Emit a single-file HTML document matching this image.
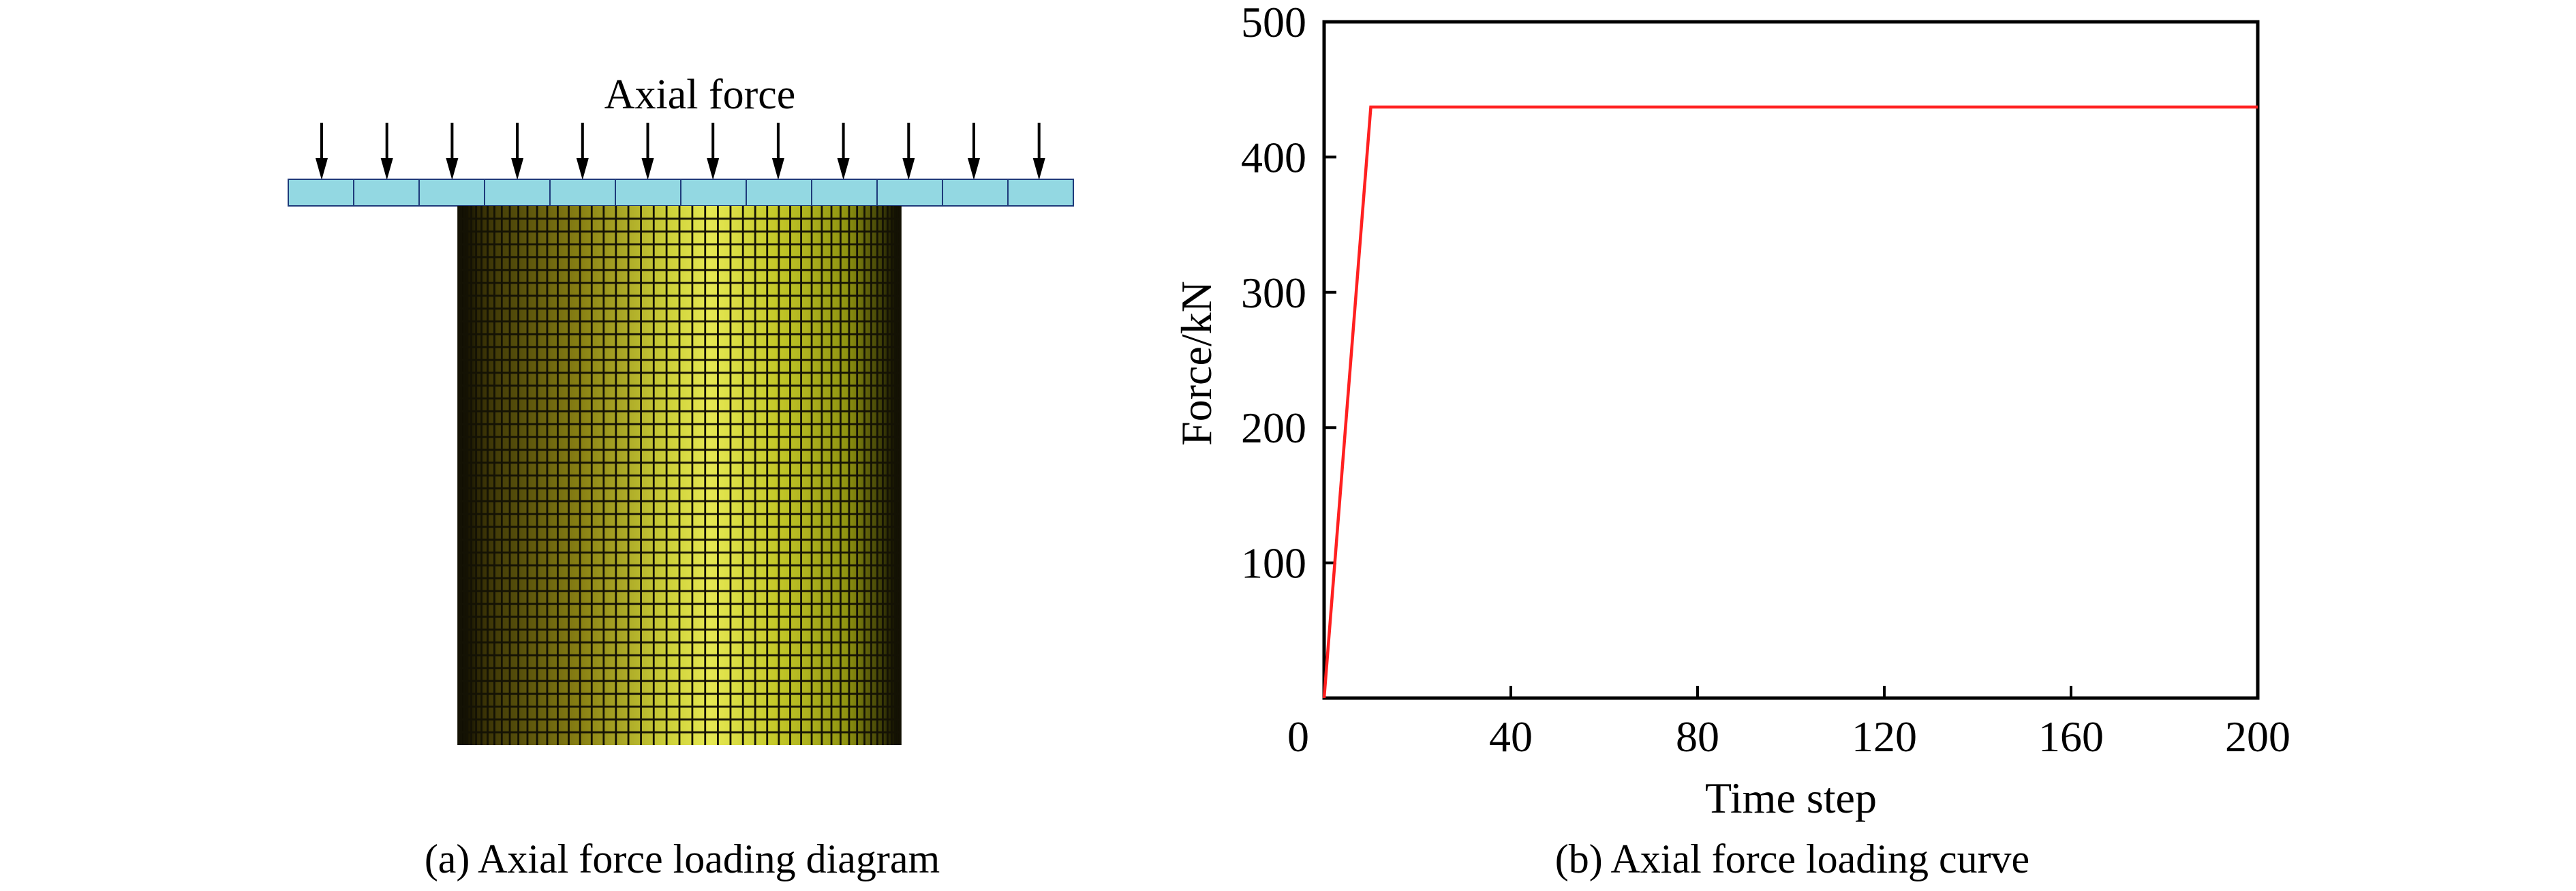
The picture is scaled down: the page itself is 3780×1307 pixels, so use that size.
<!DOCTYPE html>
<html><head><meta charset="utf-8"><style>
html,body{margin:0;padding:0;background:#fff;}
svg{display:block;font-family:"Liberation Serif",serif;}
</style></head><body>
<svg id="root" width="3780" height="1307" viewBox="0 0 3780 1307" xmlns="http://www.w3.org/2000/svg">
<defs>
<linearGradient id="cyl" x1="0" x2="1" y1="0" y2="0">
<stop offset="0" stop-color="#050400"/>
<stop offset="0.06" stop-color="#3a3306"/>
<stop offset="0.28" stop-color="#8a8214"/>
<stop offset="0.48" stop-color="#cfd23a"/>
<stop offset="0.57" stop-color="#e6e852"/>
<stop offset="0.72" stop-color="#c4c828"/>
<stop offset="0.88" stop-color="#8e9210"/>
<stop offset="0.96" stop-color="#3a3a06"/>
<stop offset="1" stop-color="#050400"/>
</linearGradient>
</defs>
<g id="diagram">
<text x="1027" y="159" font-size="62" text-anchor="middle">Axial force</text>
<g id="arrows"></g>
<rect x="423" y="263" width="1152" height="39" fill="#93d8e2" stroke="#1e3a7a" stroke-width="2"/>
<g id="platecells"></g>
<rect x="672" y="302" width="650" height="791" fill="url(#cyl)"/>
<g id="mesh"></g>
<text x="1001" y="1280" font-size="60" text-anchor="middle">(a) Axial force loading diagram</text>
</g>
<g id="chart"></g>
<text x="2630" y="1280" font-size="60" text-anchor="middle">(b) Axial force loading curve</text>
</svg>
<script>
const timeSteps = [0, 10, 200];
const forceValues = [0, 437, 437];
const xTicks = [0, 40, 80, 120, 160, 200];
const yTicks = [100, 200, 300, 400, 500];
const NS = 'http://www.w3.org/2000/svg';
function mk(tag, attrs, parent){const e=document.createElementNS(NS,tag);for(const k in attrs)e.setAttribute(k,attrs[k]);parent.appendChild(e);return e;}

const arrows=document.getElementById('arrows');
for(let i=0;i<12;i++){
  const x=472+i*95.7;
  const l=mk('line',{x1:x,y1:180,x2:x,y2:240,stroke:'#000','stroke-width':4},arrows);
  
  
  const p=mk('polygon',{points:`${x-9},232 ${x+9},232 ${x},264`,fill:'#000'},arrows);
  
  
}
const pc=document.getElementById('platecells');
for(let i=1;i<12;i++){
  const x=423+i*96;
  const l=mk('line',{x1:x,y1:263,x2:x,y2:302,stroke:'#1e3a7a','stroke-width':2},pc);
  
  
}
const mesh=document.getElementById('mesh');
const cx=997,R=325,ncol=54;
for(let i=1;i<ncol;i++){
  const x=cx-R*Math.cos(Math.PI*i/ncol);
  const l=mk('line',{x1:x,y1:302,x2:x,y2:1093,stroke:'#141204','stroke-width':2.8},mesh);
  
  
}
for(let j=1;j<42;j++){
  const y=302+j*791/42;
  const l=mk('line',{x1:672,y1:y,x2:1322,y2:y,stroke:'#141204','stroke-width':2.8},mesh);
  
  
}

const L=1943,Rt=3313,T=32,B=1024;
const xs=v=>L+(v-0)/(200-0)*(Rt-L);
const ys=v=>B-(v-0)/(500-0)*(B-T);
const chart=document.getElementById('chart');
const frame=mk('rect',{x:L,y:T,width:Rt-L,height:B-T,fill:'none',stroke:'#000','stroke-width':5},chart);


xTicks.forEach(v=>{
  const x=xs(v);
  if(v>0&&v<200){const t=mk('line',{x1:x,y1:B,x2:x,y2:B-18,stroke:'#000','stroke-width':4},chart);
  
  }
  const tx=mk('text',{x:v===0?x-38:x,y:1102,'font-size':64,'text-anchor':'middle'},chart);
  tx.textContent=v;
  
  
});
yTicks.forEach(v=>{
  const y=ys(v);
  if(v<500){const t=mk('line',{x1:L,y1:y,x2:L+18,y2:y,stroke:'#000','stroke-width':4},chart);
  
  }
  const tx=mk('text',{x:1917,y:y+22,'font-size':64,'text-anchor':'end'},chart);
  tx.textContent=v;
  
  
});
const xt=mk('text',{x:2628,y:1192,'font-size':64,'text-anchor':'middle'},chart);
xt.textContent='Time step';


const yt=mk('text',{x:1777,y:533,'font-size':64,'text-anchor':'middle',transform:'rotate(-90 1777 533)'},chart);
yt.textContent='Force/kN';


const pts=timeSteps.map((t,i)=>xs(t)+','+ys(forceValues[i])).join(' ');
const line=mk('polyline',{points:pts,fill:'none',stroke:'#ff2020','stroke-width':4.5},chart);


</script>
</body></html>
